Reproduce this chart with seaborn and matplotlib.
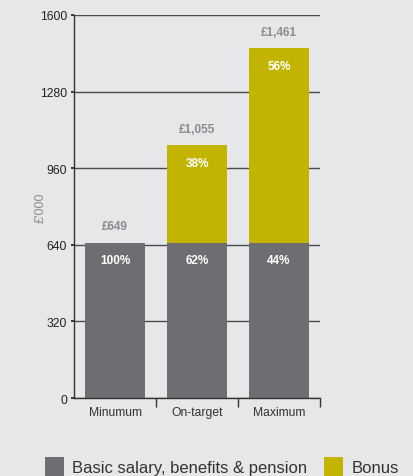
import matplotlib
matplotlib.use("Agg")
import matplotlib.pyplot as plt
from matplotlib.patches import Patch
from matplotlib.ticker import FixedLocator
import seaborn as sns
import pandas as pd

categories = ["Minumum", "On-target", "Maximum"]
base_values = [649, 649, 649]
bonus_values = [0, 406, 812]
total_labels = ["£649", "£1,055", "£1,461"]
base_pct = ["100%", "62%", "44%"]
bonus_pct = ["", "38%", "56%"]
y_ticks = [0, 320, 640, 960, 1280, 1600]

BG = "#e6e7e9"
GRAY = "#6d6e71"
GOLD = "#c2b400"

sns.set_theme(style="white")
plt.rcParams["font.family"] = ["Liberation Sans", "DejaVu Sans"]

df = pd.DataFrame({
    "cat": categories,
    "base": base_values,
    "total": [b + o for b, o in zip(base_values, bonus_values)],
})

fig = plt.figure(figsize=(4.14, 4.77), dpi=100, facecolor=BG)
ax = fig.add_axes([0.179, 0.1635, 0.594, 0.803])
ax.set_facecolor(BG)

sns.barplot(data=df, x="cat", y="total", color=GOLD, saturation=1, width=0.727,
            linewidth=0, edgecolor="none", ax=ax)
sns.barplot(data=df, x="cat", y="base", color=GRAY, saturation=1, width=0.727,
            linewidth=0, edgecolor="none", ax=ax)

ax.set_xlim(-0.5, 2.5)
ax.set_ylim(0, 1600)
ax.set_yticks(y_ticks)
ax.set_axisbelow(True)
ax.grid(axis="y", color="#4a4a4a", linewidth=1.0)
ax.grid(axis="x", visible=False)
for s in ["top", "right"]:
    ax.spines[s].set_visible(False)
for s in ["left", "bottom"]:
    ax.spines[s].set_color("#333333")
    ax.spines[s].set_linewidth(1.0)

ax.tick_params(axis="y", length=2, pad=3, labelsize=8.7, colors="#222222", left=True)
ax.tick_params(axis="x", which="major", length=0, pad=6, labelsize=8.7, labelcolor="#333333")
ax.xaxis.set_minor_locator(FixedLocator([0.5, 1.5, 2.5]))
ax.tick_params(axis="x", which="minor", length=6.5, width=1.0, color="#333333", bottom=True)
ax.set_xlabel("")
ax.set_ylabel("£'000", fontsize=9, color="#8a8b8e", labelpad=-5)

for i in range(len(categories)):
    total = base_values[i] + bonus_values[i]
    ax.annotate(total_labels[i], (i, total), xytext=(0, 12), textcoords="offset points",
                ha="center", va="center", fontsize=8.5, fontweight="bold", color="#8a8b8e")
    ax.annotate(base_pct[i], (i, base_values[i]), xytext=(0, -12.5), textcoords="offset points",
                ha="center", va="center", fontsize=8.5, fontweight="bold", color="white")
    if bonus_pct[i]:
        ax.annotate(bonus_pct[i], (i, total), xytext=(0, -12.5), textcoords="offset points",
                    ha="center", va="center", fontsize=8.5, fontweight="bold", color="white")

handles = [Patch(facecolor=GRAY, edgecolor="none"), Patch(facecolor=GOLD, edgecolor="none")]
fig.legend(handles, ["Basic salary, benefits & pension", "Bonus"], loc="upper left",
           bbox_to_anchor=(0.108, 0.04), ncol=2, frameon=False, fontsize=12,
           handlelength=1.15, handleheight=1.35, handletextpad=0.5, columnspacing=1.0,
           labelcolor="#333333", borderpad=0, borderaxespad=0)

fig.savefig("out.png", dpi=100, facecolor=BG)
